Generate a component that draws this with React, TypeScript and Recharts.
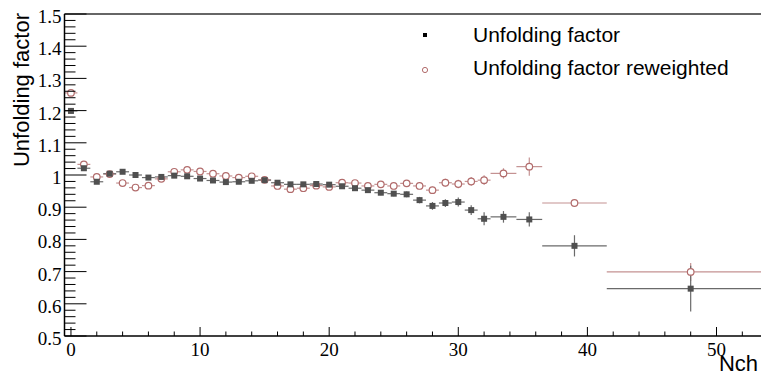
import React from 'react';
import { ComposedChart, Scatter, ErrorBar, XAxis, YAxis, ReferenceLine, Legend } from 'recharts';

// bin centres (Nch) and half-widths
const binX = [0, 1, 2, 3, 4, 5, 6, 7, 8, 9, 10, 11, 12, 13, 14, 15, 16, 17, 18, 19, 20,
  21, 22, 23, 24, 25, 26, 27, 28, 29, 30, 31, 32, 33.5, 35.5, 39, 48];
const binHalfWidth = [0.5, 0.5, 0.5, 0.5, 0.5, 0.5, 0.5, 0.5, 0.5, 0.5, 0.5, 0.5, 0.5, 0.5, 0.5, 0.5,
  0.5, 0.5, 0.5, 0.5, 0.5, 0.5, 0.5, 0.5, 0.5, 0.5, 0.5, 0.5, 0.5, 0.5, 0.5, 0.5, 0.5, 1, 1, 2.5, 6.5];

const factor = [1.199, 1.021, 0.979, 1.004, 1.010, 1.000, 0.992, 0.994, 0.998, 0.996, 0.989,
  0.983, 0.978, 0.979, 0.982, 0.984, 0.976, 0.971, 0.971, 0.972, 0.970, 0.965, 0.959, 0.953,
  0.945, 0.942, 0.940, 0.922, 0.904, 0.913, 0.916, 0.891, 0.864, 0.870, 0.862, 0.780, 0.647];
const factorErr = [0.004, 0.002, 0.002, 0.002, 0.002, 0.002, 0.002, 0.002, 0.002, 0.003, 0.003,
  0.003, 0.003, 0.003, 0.004, 0.004, 0.004, 0.005, 0.005, 0.005, 0.006, 0.006, 0.007, 0.007,
  0.008, 0.008, 0.009, 0.010, 0.012, 0.012, 0.014, 0.015, 0.020, 0.018, 0.022, 0.033, 0.071];

const reweighted = [1.255, 1.033, 0.994, 1.003, 0.975, 0.961, 0.967, 0.988, 1.010, 1.016, 1.011,
  1.004, 0.997, 0.992, 0.996, 0.985, 0.966, 0.956, 0.959, 0.967, 0.963, 0.976, 0.975, 0.966,
  0.971, 0.966, 0.974, 0.966, 0.953, 0.976, 0.972, 0.980, 0.984, 1.005, 1.026, 0.913, 0.699];
const reweightedErr = [0.004, 0.002, 0.002, 0.002, 0.002, 0.002, 0.002, 0.002, 0.002, 0.003, 0.003,
  0.003, 0.003, 0.003, 0.004, 0.004, 0.004, 0.005, 0.005, 0.005, 0.006, 0.006, 0.007, 0.007,
  0.008, 0.008, 0.009, 0.010, 0.011, 0.012, 0.013, 0.014, 0.015, 0.016, 0.028, 0.010, 0.028];

const yMajorTicks = [0.5, 0.6, 0.7, 0.8, 0.9, 1, 1.1, 1.2, 1.3, 1.4, 1.5];
const xMajorTicks = [0, 10, 20, 30, 40, 50];

// minor ticks every 0.02 (y) and every 2 (x)
const yTicks: number[] = [];
for (let i = 0; i <= 50; i++) yTicks.push(Math.round((0.5 + i * 0.02) * 100) / 100);
const xTicks: number[] = [];
for (let i = 0; i <= 54; i += 2) xTicks.push(i);

const factorData = binX.map((x, i) => ({ x, y: factor[i], xe: binHalfWidth[i], ye: factorErr[i] }));
const reweightedData = binX.map((x, i) => ({ x, y: reweighted[i], xe: binHalfWidth[i], ye: reweightedErr[i] }));

const DARK = '#505050';
const DARK_LINE = '#6a6a6a';
const ROSE = '#b26c6c';
const ROSE_LINE = '#c49292';
const SANS = '"Liberation Sans", Arial, Helvetica, sans-serif';
const SERIF = '"Liberation Serif", "Times New Roman", serif';

const YTick = (props: any) => {
  const { x, y, payload } = props;
  const v = payload.value;
  const major = yMajorTicks.some((m) => Math.abs(m - v) < 1e-6);
  return (
    <g>
      <line x1={x} x2={x + (major ? 22 : 11)} y1={y} y2={y} stroke="#000" strokeWidth={1} />
      {major && (
        <text x={x - 3} y={y + 9} textAnchor="end" fontFamily={SERIF} fontSize={19} fill="#000">
          {String(v)}
        </text>
      )}
    </g>
  );
};

const XTick = (props: any) => {
  const { x, y, payload } = props;
  const v = payload.value;
  const major = xMajorTicks.includes(v);
  return (
    <g>
      <line x1={x} x2={x} y1={y} y2={y - (major ? 9 : 4.5)} stroke="#000" strokeWidth={1} />
      {major && (
        <text x={x} y={y + 20} textAnchor="middle" fontFamily={SERIF} fontSize={19} fill="#000">
          {String(v)}
        </text>
      )}
    </g>
  );
};

const SquareMarker = (props: any) => (
  <rect x={props.cx - 3} y={props.cy - 3} width={6} height={6} fill={DARK} />
);
const CircleMarker = (props: any) => (
  <circle cx={props.cx} cy={props.cy} r={3.3} fill="#fff" stroke={ROSE} strokeWidth={1.2} />
);

const LegendBox = () => (
  <svg width={350} height={75}>
    <rect x={15} y={15} width={4} height={4} fill="#000" />
    <text x={65} y={23.7} fontFamily={SANS} fontSize={21} fill="#000">Unfolding factor</text>
    <circle cx={17} cy={52} r={2.6} fill="none" stroke={ROSE} strokeWidth={1} />
    <text x={65} y={57} fontFamily={SANS} fontSize={21} fill="#000">Unfolding factor reweighted</text>
  </svg>
);

export default function App() {
  return (
    <div style={{ width: 761, height: 367, overflow: 'hidden' }}>
      <ComposedChart width={790} height={367} margin={{ top: 6, right: 23.4, bottom: 0, left: 0 }}>
        <XAxis
          type="number"
          dataKey="x"
          domain={[-0.5, 54.5]}
          ticks={xTicks}
          interval={0}
          tickSize={0}
          tickMargin={0}
          tick={<XTick />}
          tickLine={false}
          axisLine={{ stroke: '#000', strokeWidth: 1.5 }}
          height={39}
          allowDataOverflow
          label={{
            content: () => (
              <text x={750} y={363} textAnchor="end" fontFamily={SANS} fontSize={22} fill="#000">Nch</text>
            ),
          }}
        />
        <YAxis
          type="number"
          dataKey="y"
          domain={[0.5, 1.5]}
          ticks={yTicks}
          interval={0}
          tickSize={0}
          tickMargin={0}
          tick={<YTick />}
          tickLine={false}
          axisLine={{ stroke: '#000', strokeWidth: 1.5 }}
          width={56.5}
          allowDataOverflow
          label={{
            content: () => (
              <text transform="translate(21, 5) rotate(-90)" textAnchor="end" fontFamily={SANS} fontSize={22} fill="#000">
                Unfolding factor
              </text>
            ),
          }}
        />
        <ReferenceLine y={1.5} stroke="#333" strokeWidth={1.5} />
        <Legend
          layout="vertical"
          align="center"
          verticalAlign="middle"
          content={<LegendBox />}
          wrapperStyle={{ left: 400, top: 10, width: 350, height: 75 }}
        />
        <Scatter name="Unfolding factor reweighted" data={reweightedData} dataKey="y" shape={<CircleMarker />} isAnimationActive={false}>
          <ErrorBar dataKey="xe" direction="x" width={0} stroke={ROSE_LINE} strokeWidth={1.2} isAnimationActive={false} />
          <ErrorBar dataKey="ye" direction="y" width={0} stroke={ROSE_LINE} strokeWidth={1.2} isAnimationActive={false} />
        </Scatter>
        <Scatter name="Unfolding factor" data={factorData} dataKey="y" shape={<SquareMarker />} isAnimationActive={false}>
          <ErrorBar dataKey="xe" direction="x" width={0} stroke={DARK_LINE} strokeWidth={1.2} isAnimationActive={false} />
          <ErrorBar dataKey="ye" direction="y" width={0} stroke={DARK_LINE} strokeWidth={1.2} isAnimationActive={false} />
        </Scatter>
      </ComposedChart>
    </div>
  );
}
